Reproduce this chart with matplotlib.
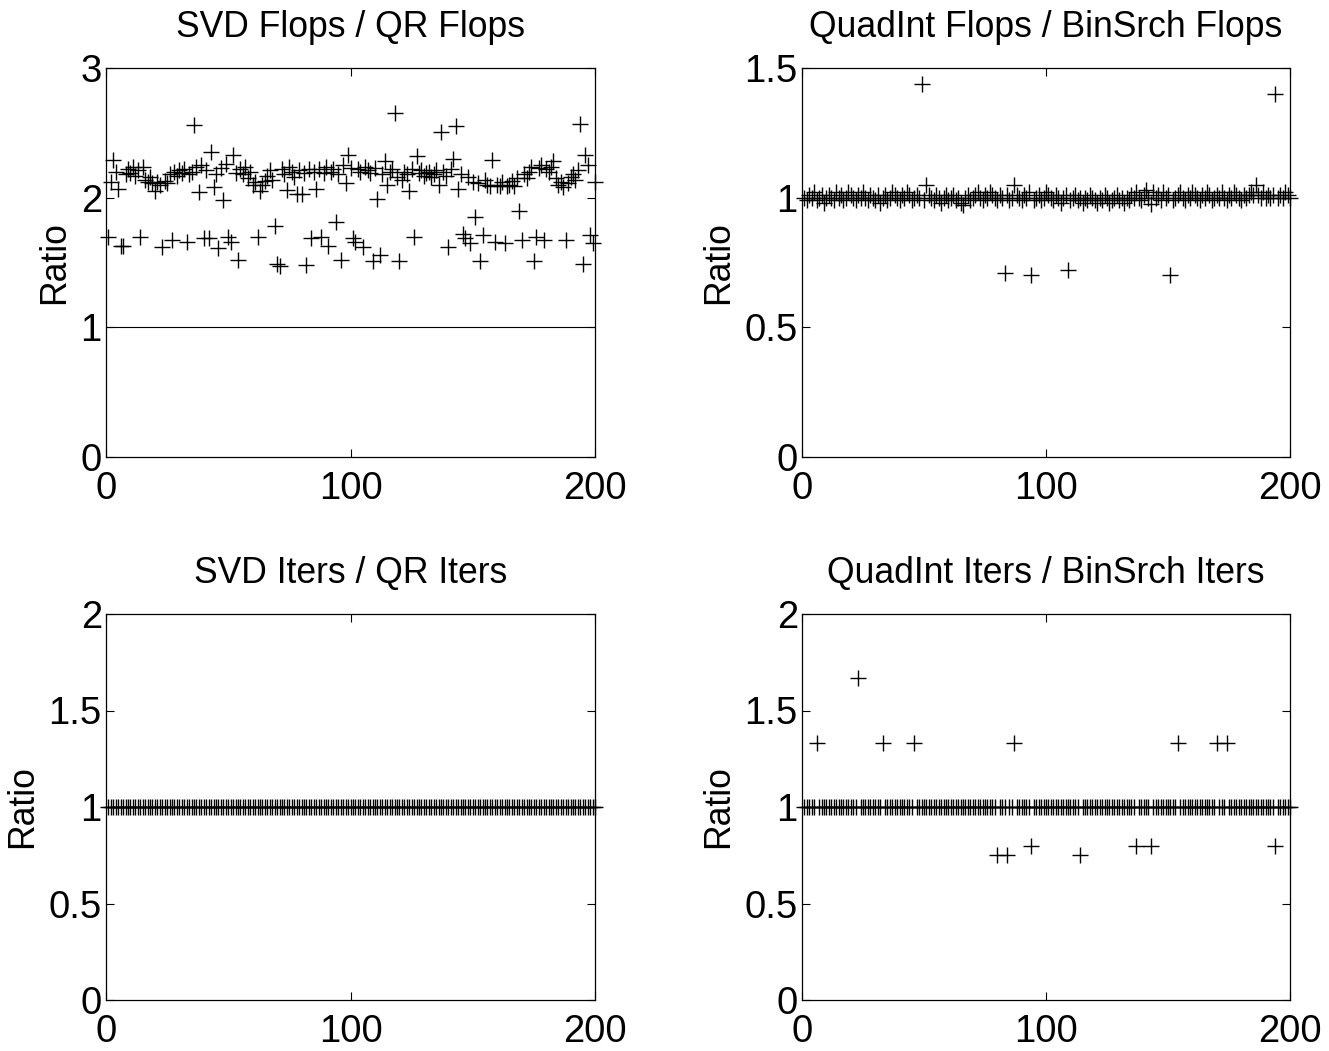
import matplotlib
matplotlib.use("Agg")
import matplotlib.pyplot as plt

plt.rcParams['font.family'] = ['Liberation Sans', 'DejaVu Sans']

# ---------------- data ----------------
n_runs = list(range(1, 201))

svd_qr_flops = [
    1.70, 2.12, 2.29, 2.20, 2.07, 1.63, 1.63, 2.18, 2.22, 2.19,
    2.24, 2.17, 2.21, 1.70, 2.24, 2.14, 2.12, 2.16, 2.11, 2.05,
    2.12, 2.10, 1.62, 2.13, 2.11, 2.18, 1.67, 2.20, 2.17, 2.21,
    2.19, 2.22, 1.66, 2.18, 2.20, 2.56, 2.24, 2.04, 2.25, 1.69,
    2.21, 1.69, 2.35, 2.08, 2.18, 1.61, 2.23, 1.98, 2.26, 1.70,
    1.66, 2.33, 2.19, 1.52, 2.22, 2.18, 2.24, 2.15, 2.20, 2.10,
    2.12, 1.70, 2.05, 2.10, 2.13, 2.17, 2.21, 2.14, 1.78, 1.49,
    1.47, 2.22, 2.18, 2.06, 2.24, 2.20, 2.16, 2.03, 2.21, 2.03,
    2.19, 1.48, 2.22, 1.69, 2.20, 2.07, 2.22, 1.70, 2.19, 2.24,
    1.63, 2.20, 2.22, 1.81, 2.18, 1.52, 2.25, 2.11, 2.33, 2.23,
    1.69, 1.66, 2.22, 2.20, 1.62, 2.24, 2.21, 2.19, 1.51, 2.23,
    1.99, 1.56, 2.18, 2.28, 2.10, 2.20, 2.22, 2.65, 2.16, 1.51,
    2.14, 2.20, 2.18, 2.05, 2.22, 1.70, 2.32, 2.19, 2.21, 2.17,
    2.19, 2.20, 2.16, 2.18, 2.21, 2.10, 2.51, 2.20, 2.17, 1.62,
    2.22, 2.30, 2.55, 2.07, 2.18, 1.72, 1.69, 2.16, 1.65, 2.12,
    1.85, 2.11, 1.51, 1.71, 2.14, 2.10, 2.09, 2.29, 1.66, 2.10,
    2.09, 2.12, 1.65, 2.09, 2.10, 2.13, 2.09, 2.15, 1.90, 1.67,
    2.18, 2.15, 2.20, 2.24, 1.51, 1.70, 2.23, 2.25, 1.67, 2.22,
    2.20, 2.24, 2.28, 2.15, 2.10, 2.12, 2.08, 1.67, 2.11, 2.16,
    2.18, 2.14, 2.21, 2.57, 1.49, 2.33, 2.25, 1.71, 1.65, 2.12,
]

quad_bin_flops = [
    1.00, 0.99, 1.01, 1.00, 1.02, 0.99, 1.00, 1.01, 0.98, 1.00,
    1.01, 1.00, 0.99, 1.02, 1.00, 1.01, 0.99, 1.00, 1.02, 1.01,
    1.00, 0.99, 1.01, 1.00, 1.02, 1.00, 0.99, 1.01, 1.00, 0.99,
    1.01, 0.98, 1.00, 1.01, 0.99, 1.00, 1.02, 1.01, 1.00, 0.99,
    1.01, 1.00, 1.02, 1.01, 0.99, 1.00, 1.01, 1.00, 1.44, 0.99,
    1.05, 1.01, 1.00, 0.99, 1.01, 1.00, 0.98, 1.00, 1.01, 0.99,
    1.00, 1.01, 0.99, 1.00, 0.98, 0.97, 1.00, 1.01, 0.99, 1.00,
    1.01, 1.02, 1.00, 0.99, 1.01, 1.00, 1.02, 1.01, 1.00, 0.99,
    1.01, 1.00, 0.71, 1.01, 0.99, 1.00, 1.05, 1.01, 1.00, 0.99,
    1.01, 1.00, 1.02, 0.70, 0.99, 1.00, 1.01, 0.99, 1.00, 1.02,
    1.01, 1.00, 0.99, 1.01, 1.00, 0.98, 1.00, 1.01, 0.72, 0.99,
    1.00, 1.01, 0.99, 1.00, 0.98, 1.00, 0.99, 1.01, 1.00, 0.99,
    0.98, 1.00, 0.99, 1.01, 1.00, 0.98, 0.99, 1.00, 1.01, 0.99,
    1.00, 0.98, 1.00, 0.99, 1.01, 1.00, 1.02, 1.00, 0.99, 1.01,
    1.03, 1.00, 0.975, 1.02, 1.00, 1.01, 0.99, 1.02, 1.00, 1.01,
    0.70, 0.99, 1.00, 1.01, 1.02, 1.00, 0.99, 1.01, 1.00, 1.02,
    1.01, 1.00, 0.99, 1.01, 1.00, 1.02, 1.01, 0.99, 1.00, 1.01,
    1.00, 1.02, 1.00, 0.99, 1.01, 1.00, 1.02, 1.01, 1.00, 0.99,
    1.01, 1.00, 1.01, 1.02, 1.01, 1.05, 1.01, 1.00, 1.02, 1.00,
    1.01, 1.00, 1.01, 1.40, 1.00, 1.01, 1.00, 1.02, 1.01, 1.00,
]

svd_qr_iters = [1.0] * 200

quad_bin_iters = [
    1, 1, 1, 1, 1, 4/3, 1, 1, 1, 1,
    1, 1, 1, 1, 1, 1, 1, 1, 1, 1,
    1, 1, 5/3, 1, 1, 1, 1, 1, 1, 1,
    1, 1, 4/3, 1, 1, 1, 1, 1, 1, 1,
    1, 1, 1, 1, 1, 4/3, 1, 1, 1, 1,
    1, 1, 1, 1, 1, 1, 1, 1, 1, 1,
    1, 1, 1, 1, 1, 1, 1, 1, 1, 1,
    1, 1, 1, 1, 1, 1, 1, 1, 1, 0.75,
    1, 1, 1, 0.75, 1, 1, 4/3, 1, 1, 1,
    1, 1, 1, 0.8, 1, 1, 1, 1, 1, 1,
    1, 1, 1, 1, 1, 1, 1, 1, 1, 1,
    1, 1, 1, 0.75, 1, 1, 1, 1, 1, 1,
    1, 1, 1, 1, 1, 1, 1, 1, 1, 1,
    1, 1, 1, 1, 1, 1, 0.8, 1, 1, 1,
    1, 1, 0.8, 1, 1, 1, 1, 1, 1, 1,
    1, 1, 1, 4/3, 1, 1, 1, 1, 1, 1,
    1, 1, 1, 1, 1, 1, 1, 1, 1, 4/3,
    1, 1, 1, 4/3, 1, 1, 1, 1, 1, 1,
    1, 1, 1, 1, 1, 1, 1, 1, 1, 1,
    1, 1, 1, 0.8, 1, 1, 1, 1, 1, 1,
]

titles = ["SVD Flops / QR Flops", "QuadInt Flops / BinSrch Flops",
          "SVD Iters / QR Iters", "QuadInt Iters / BinSrch Iters"]
series = [svd_qr_flops, quad_bin_flops, svd_qr_iters, quad_bin_iters]
y_limits = [(0, 3), (0, 1.5), (0, 2), (0, 2)]
y_ticks = [[0, 1, 2, 3], [0, 0.5, 1, 1.5], [0, 0.5, 1, 1.5, 2], [0, 0.5, 1, 1.5, 2]]
y_ticklabels = [["0", "1", "2", "3"], ["0", "0.5", "1", "1.5"],
                ["0", "0.5", "1", "1.5", "2"], ["0", "0.5", "1", "1.5", "2"]]
x_ticks = [0, 100, 200]
x_ticklabels = ["0", "100", "200"]
ref_x = [0, 200]
ref_y = [1, 1]

# ---------------- figure ----------------
W, H = 1329, 1051
fig = plt.figure(figsize=(W / 100, H / 100), dpi=100)

boxes = [(106, 595, 68, 457), (802, 1290, 68, 457),
         (106, 595, 614, 1000), (802, 1290, 614, 1000)]

TICK_FS = 27.5
TXT_FS = 25.6
for box, t, ys, yl, yt, ytl in zip(boxes, titles, series, y_limits, y_ticks, y_ticklabels):
    x0, x1, y0, y1 = box
    ax = fig.add_axes([x0 / W, 1 - y1 / H, (x1 - x0) / W, (y1 - y0) / H])
    ax.plot(ref_x, ref_y, color='k', lw=0.8)
    ax.plot(n_runs, ys, linestyle='none', marker='+', color='k',
            markersize=12, markeredgewidth=1.0, clip_on=False)
    ax.set_xlim(0, 200)
    ax.set_ylim(*yl)
    ax.set_xticks(x_ticks)
    ax.set_xticklabels(x_ticklabels)
    ax.set_yticks(yt)
    ax.set_yticklabels(ytl)
    ax.tick_params(direction='in', top=True, right=True, length=6, width=0.8,
                   labelsize=TICK_FS)
    ax.tick_params(axis='x', pad=10)
    ax.tick_params(axis='y', pad=3)
    for sp in ax.spines.values():
        sp.set_linewidth(0.9)
    ax.set_title(t, fontsize=TXT_FS, pad=22)
    ax.set_ylabel("Ratio", fontsize=TXT_FS, labelpad=6)

fig.savefig("out.png", dpi=100)
